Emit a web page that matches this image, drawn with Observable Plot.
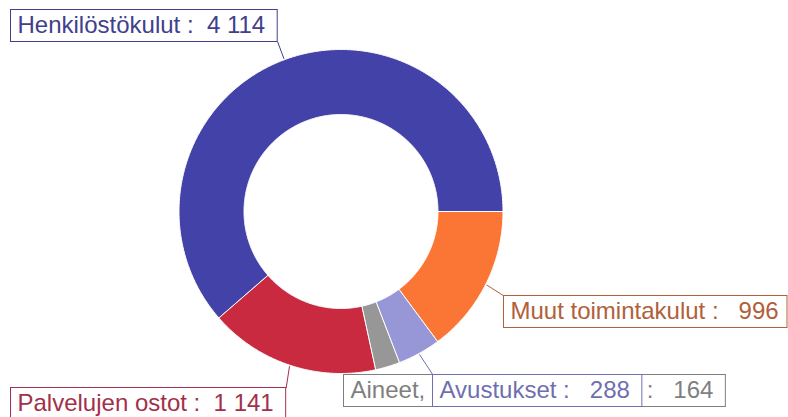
<!DOCTYPE html>
<html><head><meta charset="utf-8">
<script src="https://cdn.jsdelivr.net/npm/d3@7"></script>
<script src="https://cdn.jsdelivr.net/npm/@observablehq/plot@0.6"></script>
<style>
html,body{margin:0;padding:0;background:#fff;}
svg text{white-space:pre;}
</style></head><body><div id="chart"></div>
<script>
// Data (clockwise from 3 o'clock)
const categories = ["Muut toimintakulut", "Avustukset", "Aineet, tarvikkeet ja tavarat", "Palvelujen ostot", "Henkilöstökulut"];
const values = [996, 288, 164, 1141, 4114];
const sliceColors = ["#fb7535", "#9797d7", "#979797", "#c92a40", "#4242a8"];
const labelColors = ["#b0603a", "#6f6fb0", "#7f7f7f", "#a3304a", "#40408c"];
// draw order of labels (later ones on top)
const labelOrder = ["Henkilöstökulut", "Muut toimintakulut", "Palvelujen ostot", "Aineet, tarvikkeet ja tavarat", "Avustukset"];

// Layout
const W = 788, H = 417, cx = 340.5, cy = 211, rOuter = 162, rInner = 97;
const fontSize = 24, padL = 7, padR = 12, boxH = 32;
const FONT = "'Liberation Sans', Arial, sans-serif";
// box placement: left/top of box, and which corner the leader goes to
const layout = {
  "Henkilöstökulut": {left: 10, top: 9, corner: "br", leader: true},
  "Muut toimintakulut": {left: 503, top: 295, corner: "tl", leader: true},
  "Avustukset": {left: 432, top: 374, corner: "tl", leader: true},
  "Aineet, tarvikkeet ja tavarat": {left: 343, top: 374, corner: "tl", leader: false},
  "Palvelujen ostot": {left: 10, top: 387, corner: "tr", leader: true}
};

const fmt = d3.formatLocale({decimal: ",", thousands: " ", grouping: [3], currency: ["", "€"]}).format(",");
const pie = d3.pie().sort(null).startAngle(Math.PI / 2).endAngle(Math.PI / 2 + 2 * Math.PI)(values);

const pt = (r, a) => ({x: cx + r * Math.sin(a), y: cy - r * Math.cos(a)});

const rows = [];
pie.forEach((p, i) => {
  const n = Math.max(2, Math.ceil((p.endAngle - p.startAngle) / (Math.PI / 360)));
  for (let k = 0; k <= n; k++) {
    const a = p.startAngle + (p.endAngle - p.startAngle) * k / n;
    rows.push({name: categories[i], ...pt(rOuter, a)});
  }
  for (let k = n; k >= 0; k--) {
    const a = p.startAngle + (p.endAngle - p.startAngle) * k / n;
    rows.push({name: categories[i], ...pt(rInner, a)});
  }
});

const ctx = document.createElement("canvas").getContext("2d");
ctx.font = `${fontSize}px ${FONT}`;

const labelMarks = [];
const leaderMarks = [];
labelOrder.forEach(name => {
  const i = categories.indexOf(name);
  const s = fmt(values[i]);
  const text = `${name} :${s.length > 3 ? "  " : "   "}${s}`;
  const L = layout[name];
  const w = ctx.measureText(text).width;
  const x1 = L.left + 0.5;
  const x2 = Math.min(W - 1.5, L.left + padL + w + padR) + 0.5;
  const y1 = L.top + 0.5, y2 = L.top + boxH + 0.5;
  const lab = {text, x1, x2, y1, y2, tx: L.left + padL, ty: L.top + boxH / 2};
  const c = labelColors[i];
  if (L.leader) {
    const p = pie[i];
    const s0 = pt(rOuter + 1, (p.startAngle + p.endAngle) / 2);
    const e = {
      br: {x: x2, y: y2}, tl: {x: x1, y: y1}, tr: {x: x2, y: y1}
    }[L.corner];
    leaderMarks.push(Plot.link([{a: s0, b: e}], {
      x1: d => d.a.x, y1: d => d.a.y, x2: d => d.b.x, y2: d => d.b.y,
      stroke: c, strokeWidth: 1
    }));
  }
  labelMarks.push(Plot.rect([lab], {x1: "x1", x2: "x2", y1: "y1", y2: "y2", fill: "white", stroke: c, strokeWidth: 1}));
  labelMarks.push(Plot.text([lab], {
    x: "tx", y: "ty", text: "text", textAnchor: "start", lineAnchor: "middle",
    fill: c, fontSize, fontFamily: FONT
  }));
});

const chart = Plot.plot({
  width: W, height: H, margin: 0,
  style: {background: "white", fontFamily: FONT},
  x: {domain: [0, W], range: [0, W], axis: null},
  y: {domain: [0, H], range: [0, H], axis: null},
  color: {domain: categories, range: sliceColors},
  marks: [
    Plot.line(rows, {x: "x", y: "y", z: "name", fill: "name", stroke: "white", strokeWidth: 1, curve: "linear-closed"}),
    ...leaderMarks,
    ...labelMarks
  ]
});
document.getElementById("chart").appendChild(chart);
</script></body></html>
